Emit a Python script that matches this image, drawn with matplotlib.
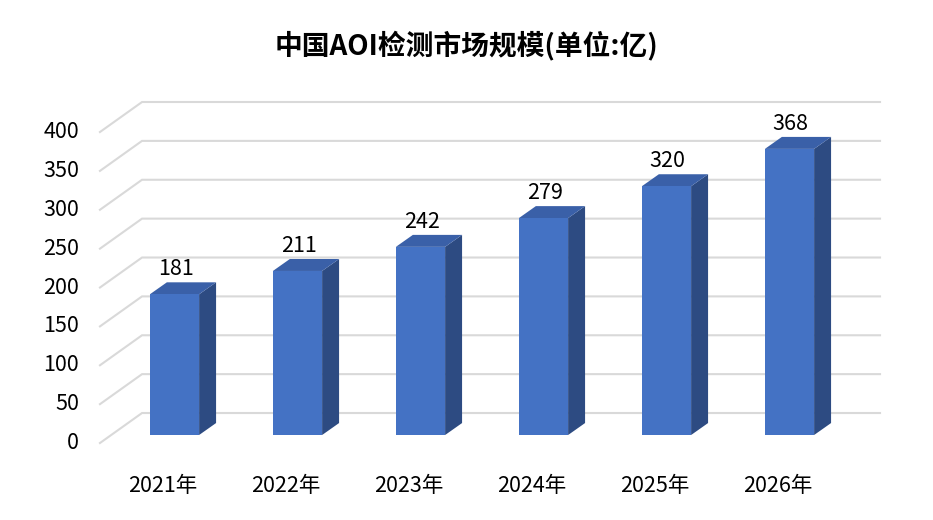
import matplotlib.pyplot as plt
from matplotlib.patches import Polygon

plt.rcParams['font.family'] = ['Noto Sans CJK SC', 'DejaVu Sans']

# data
years = ['2021年', '2022年', '2023年', '2024年', '2025年', '2026年']
values = [181, 211, 242, 279, 320, 368]
y_ticks = [0, 50, 100, 150, 200, 250, 300, 350, 400]
title = '中国AOI检测市场规模(单位:亿)'

# colours / 3d look
front_c = '#4472C4'
side_c = '#2D4B82'
top_c = '#3A60A8'
grid_c = '#D9D9D9'

half_w = 0.2          # half width of bar front face (category units)
bar_dx, bar_dy = 0.138, 15.4     # bar depth
wall_dx = 0.342                  # depth of the grid box
front_off, back_off = -10.3, 28.3  # grid front / back shift in value units

fig = plt.figure(figsize=(9.33, 5.2), dpi=100)
ax = fig.add_axes([0, 0, 1, 1])
ax.set_xlim(-1.4187, 6.1667)
ax.set_ylim(-109.3, 559.5)
ax.axis('off')

# gridlines: diagonal on left side + horizontal on back wall
x_front = -0.606
x_back = x_front + wall_dx
x_right = 5.736
for v in y_ticks:
    ax.plot([x_front, x_back, x_right], [v + front_off, v + back_off, v + back_off],
            color=grid_c, lw=1.5, zorder=1, solid_joinstyle='miter')
    ax.text(-0.775, v + front_off, str(v), ha='right', va='center', fontsize=15.5)

# bars
for i, v in enumerate(values):
    l, r = i - half_w, i + half_w
    side = [(r, 0), (r + bar_dx, bar_dy), (r + bar_dx, v + bar_dy), (r, v)]
    top = [(l, v), (l + bar_dx, v + bar_dy), (r + bar_dx, v + bar_dy), (r, v)]
    front = [(l, 0), (r, 0), (r, v), (l, v)]
    ax.add_patch(Polygon(side, closed=True, fc=side_c, ec='none', zorder=3))
    ax.add_patch(Polygon(top, closed=True, fc=top_c, ec='none', zorder=3))
    ax.add_patch(Polygon(front, closed=True, fc=front_c, ec='none', zorder=4))
    ax.text(i + 0.01, v + 32, str(v), ha='center', va='center', fontsize=15.5, zorder=5)
    ax.text(i - 0.093, -66, years[i], ha='center', va='center', fontsize=15.5)

fig.text(0.5, 1 - 45 / 520, title, ha='center', va='center', fontsize=20, fontweight='bold')

fig.savefig('out.png', dpi=100)
